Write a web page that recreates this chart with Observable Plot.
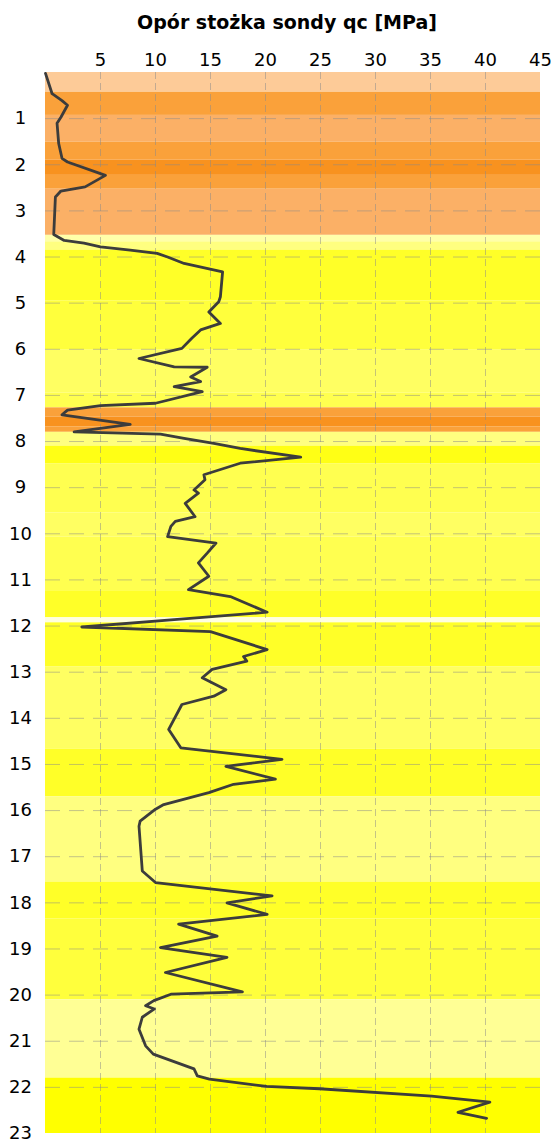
<!DOCTYPE html>
<html><head><meta charset="utf-8">
<script src="https://cdn.jsdelivr.net/npm/d3@7"></script>
<script src="https://cdn.jsdelivr.net/npm/@observablehq/plot@0.6"></script>
<style>
body{margin:0;background:#fff;font-family:"DejaVu Sans",sans-serif;}
#title{height:36px;width:555px;text-align:center;font-weight:bold;font-size:19px;line-height:34px;padding-top:5px;padding-left:19px;box-sizing:border-box;overflow:visible;white-space:nowrap;}
</style></head><body>
<div id="title">Opór stożka sondy qc [MPa]</div>
<div id="chart"></div>
<script>
// Profile: cone resistance qc [MPa] vs depth [m]
const qc = [0.0,0.6,1.5,2.0,1.4,1.05,1.2,1.5,2.0,5.45,3.6,1.4,0.9,0.75,1.7,3.5,5.0,7.7,10.15,11.1,12.6,16.1,15.9,15.75,14.85,15.9,14.1,13.3,12.4,8.5,11.7,14.7,13.2,14.1,11.7,14.25,10.0,5.0,2.0,1.5,7.7,2.6,10.45,12.6,15.3,17.7,23.2,17.7,14.4,14.5,13.5,13.9,12.7,13.6,11.8,11.4,11.1,15.5,14.7,13.9,14.85,13.0,16.8,20.15,11.7,3.3,15.0,20.15,18.0,18.3,15.15,14.25,16.4,15.3,12.4,11.2,12.3,21.5,16.4,20.9,17.1,14.85,10.75,10.0,8.6,8.5,8.8,10.0,20.6,16.5,20.15,12.1,15.6,10.45,16.5,10.9,17.9,11.4,9.85,9.1,9.9,8.8,8.5,9.1,9.8,13.5,13.8,14.9,20.1,24.9,35.1,40.4,37.5,40.1];
const depth = [0.02,0.46,0.61,0.71,0.97,1.10,1.54,1.86,1.94,2.23,2.48,2.57,2.70,3.51,3.64,3.70,3.78,3.85,3.92,4.00,4.14,4.32,4.86,4.97,5.19,5.44,5.58,5.76,5.98,6.20,6.38,6.39,6.60,6.70,6.81,6.92,7.17,7.22,7.32,7.42,7.63,7.79,7.84,7.93,8.04,8.15,8.34,8.47,8.72,8.83,9.05,9.12,9.34,9.63,9.73,9.84,10.06,10.20,10.42,10.63,10.92,11.21,11.36,11.70,11.86,12.02,12.12,12.51,12.66,12.76,12.94,13.12,13.38,13.52,13.70,14.24,14.64,14.89,15.04,15.32,15.43,15.61,15.87,15.97,16.23,16.34,17.31,17.56,17.85,18.00,18.25,18.46,18.72,18.97,19.18,19.51,19.93,19.98,20.12,20.23,20.30,20.48,20.74,21.10,21.28,21.60,21.75,21.82,21.98,22.03,22.19,22.32,22.54,22.67];

// Background layers
const bandTop = [0,0.43,0.93,1.51,1.90,2.23,2.53,3.53,3.67,3.85,4.95,6.02,6.95,7.27,7.47,7.68,7.80,8.10,8.48,9.55,10.07,11.25,11.82,11.93,12.88,14.67,15.70,17.55,18.35,20.10,21.80];
const bandBottom = [0.43,0.93,1.51,1.90,2.23,2.53,3.53,3.67,3.85,4.95,6.02,6.95,7.27,7.47,7.68,7.80,8.10,8.48,9.55,10.07,11.25,11.82,11.93,12.88,14.67,15.70,17.55,18.35,20.10,21.80,23];
const bandClass = ["o1","o3","o2","o3","o4","o3","o2","y9","y7","y2","y3","y5","y4","o3","o4","o3","y7","y1","y4","y5","y4","y2","w","y2","y5","y2","y7","y2","y3","y8","y0"];

const xTicks = [5,10,15,20,25,30,35,40,45];
const yTicks = [1,2,3,4,5,6,7,8,9,10,11,12,13,14,15,16,17,18,19,20,21,22,23];

const palette = {
  o1:"#FDCB98", o2:"#FBB066", o3:"#FAA13A", o4:"#F8921F",
  y0:"#FFFF00", y1:"#FFFF15", y2:"#FFFF28", y3:"#FFFF3C", y4:"#FFFF50",
  y5:"#FFFF62", y7:"#FFFF80", y8:"#FFFF95", y9:"#FFFFAA", w:"#FFFFE0"
};

const profile = qc.map((v,i)=>({qc:v, depth:depth[i]}));
const bands = bandTop.map((t,i)=>({top:t, bottom:bandBottom[i], cls:bandClass[i]}));

const chart = Plot.plot({
  width:555, height:1106,
  marginTop:36, marginBottom:9, marginLeft:45, marginRight:15,
  style:{fontFamily:"DejaVu Sans, sans-serif", fontSize:"18px", background:"transparent", color:"#000"},
  x:{domain:[0,45], axis:null},
  y:{domain:[0,23], reverse:true, axis:null},
  color:{domain:Object.keys(palette), range:Object.values(palette)},
  marks:[
    Plot.rect(bands, {x1:0, x2:45, y1:"top", y2:"bottom", fill:"cls"}),
    Plot.gridX(xTicks.slice(0,-1), {stroke:"#8a8a8a", strokeOpacity:0.5, strokeDasharray:"7,4", strokeWidth:1}),
    Plot.gridY(yTicks.slice(0,-1), {stroke:"#8a8a8a", strokeOpacity:0.5, strokeDasharray:"15,9", strokeWidth:1}),
    Plot.line(profile, {x:"qc", y:"depth", stroke:"#3c3c3c", strokeWidth:2.8, strokeLinejoin:"round"}),
    Plot.axisX(xTicks, {anchor:"top", tickSize:0, tickPadding:7, fontSize:18, label:null}),
    Plot.axisY(yTicks, {anchor:"left", tickSize:0, tickPadding:25, textAnchor:"middle", fontSize:18, label:null})
  ]
});
document.getElementById("chart").appendChild(chart);
</script>
</body></html>
